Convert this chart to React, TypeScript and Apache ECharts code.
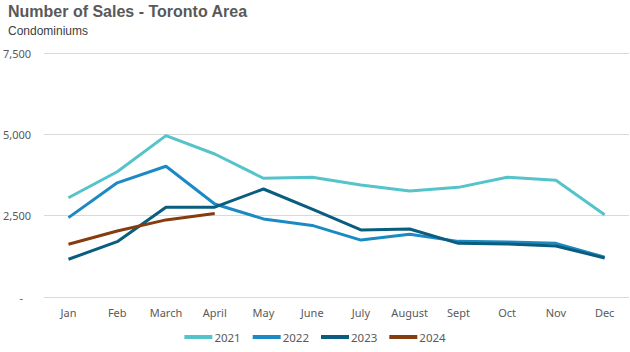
import React, { useEffect, useRef } from "react";
import * as echarts from "echarts";

const months = ["Jan", "Feb", "March", "April", "May", "June", "July", "August", "Sept", "Oct", "Nov", "Dec"];
const s2021 = [3050, 3850, 4960, 4395, 3650, 3680, 3440, 3260, 3370, 3680, 3590, 2530];
const s2022 = [2440, 3510, 4020, 2860, 2400, 2200, 1750, 1930, 1710, 1690, 1650, 1220];
const s2023 = [1160, 1700, 2760, 2760, 3320, 2700, 2060, 2090, 1650, 1630, 1570, 1200];
const s2024 = [1620, 2030, 2370, 2570];
const seriesNames = ["2021", "2022", "2023", "2024"];
const colors = ["#55C4CA", "#1B8AC4", "#0A5D7E", "#853C0E"];

export default function App() {
  const ref = useRef<HTMLDivElement>(null);
  useEffect(() => {
    const chart = echarts.init(ref.current!, null, { renderer: "svg" });
    const data = [s2021, s2022, s2023, s2024];
    chart.setOption({
      animation: false,
      color: colors,
      title: {
        text: "Number of Sales - Toronto Area",
        subtext: "Condominiums",
        left: 3,
        top: -2,
        itemGap: 6,
        textStyle: { fontFamily: "Liberation Sans", fontSize: 16, fontWeight: "bold", color: "#595959" },
        subtextStyle: { fontFamily: "Liberation Sans", fontSize: 12, color: "#404040" },
      },
      legend: {
        bottom: 4,
        left: "center",
        itemWidth: 28,
        itemHeight: 4,
        itemGap: 12,
        icon: "rect",
        textStyle: { fontFamily: "Noto Sans", fontSize: 11.5, color: "#595959", padding: [0, 0, 0, -3] },
        data: seriesNames,
      },
      grid: { left: 44, right: 1, top: 53, bottom: 55, containLabel: false },
      xAxis: {
        type: "category",
        data: months,
        boundaryGap: true,
        axisLine: { show: false },
        axisTick: { show: false },
        axisLabel: { fontFamily: "Noto Sans", fontSize: 11, color: "#595959", margin: 10 },
      },
      yAxis: {
        type: "value",
        min: 0,
        max: 7500,
        interval: 2500,
        splitLine: { lineStyle: { color: "#D9D9D9", width: 1 } },
        axisLabel: {
          fontFamily: "Noto Sans",
          fontSize: 11,
          color: "#595959",
          margin: 13,
          formatter: (v: number) => (v === 0 ? "{d|-}" : v.toLocaleString("en-US")),
          rich: { d: { padding: [0, 8, 0, 0], fontSize: 11, color: "#595959" } },
        },
      },
      series: seriesNames.map((n, i) => ({
        name: n,
        type: "line",
        data: data[i],
        symbol: "none",
        lineStyle: { width: 3, color: colors[i] },
        itemStyle: { color: colors[i] },
      })),
    });
    return () => chart.dispose();
  }, []);
  return <div ref={ref} style={{ width: 630, height: 352, position: "absolute", left: 0, top: 0 }} />;
}
